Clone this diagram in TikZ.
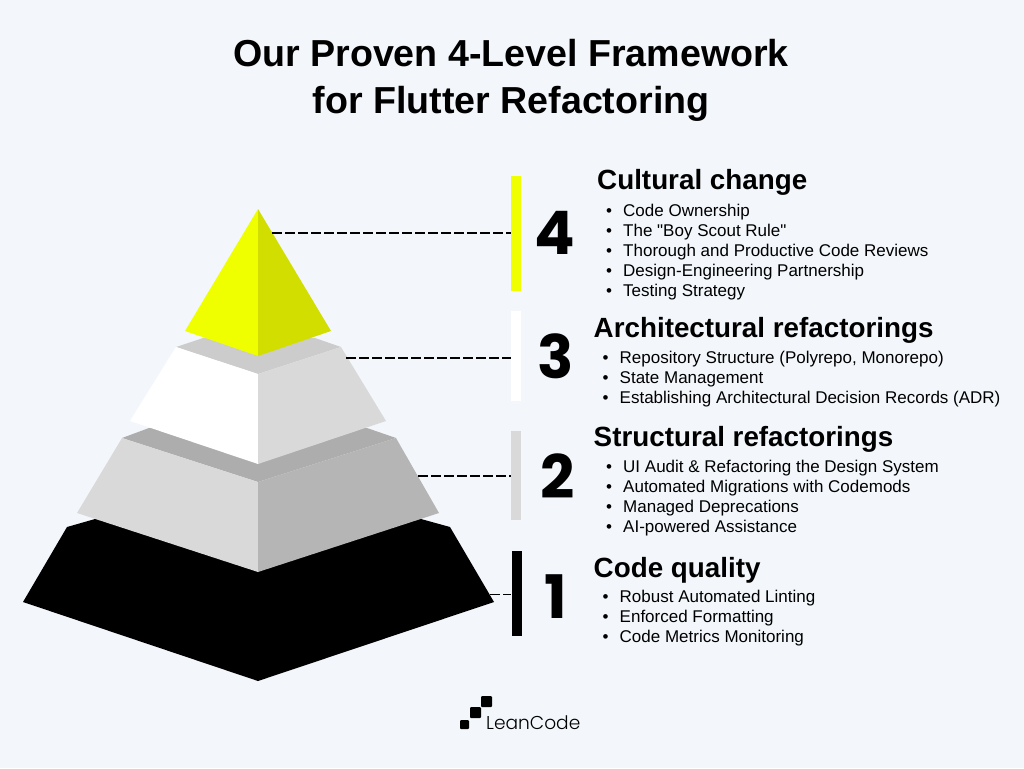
\documentclass[tikz,border=0pt]{standalone}
\usepackage{fontspec}
\setmainfont{Liberation Sans}
\newfontfamily\itemfont{Liberation Sans}
\newfontfamily\numfont{Poppins}
\newfontfamily\logofont{Poppins}[UprightFont=* Light]
\usetikzlibrary{positioning}
\definecolor{bgblue}{HTML}{F3F7FB}
\definecolor{lime}{HTML}{F0FF00}
\definecolor{darklime}{HTML}{D2DD00}
\tikzset{
  level bar/.style={rectangle, draw=none, inner sep=0pt, minimum width=10pt},
  level num/.style={inner sep=0pt, font=\numfont\bfseries\fontsize{60}{60}\selectfont},
  heading/.style={anchor=base west, inner sep=0pt, font=\bfseries\fontsize{27.8}{28}\selectfont},
  bullet item/.style={anchor=base west, inner sep=0pt, font=\itemfont\fontsize{17}{20}\selectfont},
  dash link/.style={black, line width=1.5pt, dash pattern=on 10pt off 3pt},
  logo square/.style={rectangle, fill=black, rounded corners=1pt, inner sep=0pt, minimum size=11pt}
}
\begin{document}
\begin{tikzpicture}[x=1pt, y=-1pt]
\fill[bgblue] (0,0) rectangle (1024,768);
\useasboundingbox (0,0) rectangle (1024,768);
% title
\node[align=center, inner sep=0pt, font=\bfseries\fontsize{37.6}{47}\selectfont] (title) at (511,80) {Our Proven 4-Level Framework\\for Flutter Refactoring};
% black level
\fill[black] (95,519) -- (67,527) -- (23,602) -- (258,681) -- (494,602) -- (450,527) -- (421,519) -- cycle;
% level 2
\fill[black!32] (149,428) -- (122,438) -- (258,482) -- (396,438) -- (367,428) -- cycle;
\fill[black!15] (122,438) -- (77,513) -- (258,572) -- (258,482) -- cycle;
\fill[black!29] (396,438) -- (439,513) -- (258,572) -- (258,482) -- cycle;
% level 3
\fill[black!20] (203,338) -- (176,347) -- (258,374) -- (341,347) -- (315,338) -- cycle;
\fill[white] (176,347) -- (130,421) -- (258,464) -- (258,374) -- cycle;
\fill[black!15] (341,347) -- (386,421) -- (258,464) -- (258,374) -- cycle;
% top level
\fill[lime] (258,209) -- (185,331) -- (258,356) -- cycle;
\fill[darklime] (258,209) -- (331,331) -- (258,356) -- cycle;
% bars
\node[level bar, fill=lime, minimum height=115pt] (barfour) at (516,233.5) {};
\node[level bar, fill=white, minimum height=90pt] (barthree) at (516,356) {};
\node[level bar, fill=black!15, minimum height=89pt] (bartwo) at (516,475.5) {};
\node[level bar, fill=black, minimum height=85pt] (barone) at (516.5,593.5) {};
% links
\coordinate (tipfour) at (272,233);
\coordinate (tipthree) at (346,358);
\coordinate (tiptwo) at (418,476);
\coordinate (tipone) at (490,594);
\draw[dash link] (tipfour) -- (tipfour -| barfour.west);
\draw[dash link] (tipthree) -- (tipthree -| barthree.west);
\draw[dash link] (tiptwo) -- (tiptwo -| bartwo.west);
\draw[dash link, line width=1pt] (tipone) -- (tipone -| barone.west);
% numbers
\node[level num] (numfour) at (554.5,233) {4};
\node[level num] (numthree) at (555.5,356) {3};
\node[level num] (numtwo) at (557.5,476) {2};
\node[level num] (numone) at (555.5,597) {1};
% level 4 text
\node[heading] (headfour) at (597,189) {Cultural change};
\foreach \i/\txt in {0/Code Ownership, 1/The "Boy Scout Rule", 2/Thorough and Productive Code Reviews, 3/Design-Engineering Partnership, 4/Testing Strategy} {
  \node[bullet item] (dotfour\i) at (606,216+20*\i) {•};
  \node[bullet item] (itemfour\i) at (623,216+20*\i) {\txt};
}
% level 3 text
\node[heading] (headthree) at (593.5,337) {Architectural refactorings};
\foreach \i/\txt in {0/{Repository Structure (Polyrepo, Monorepo)}, 1/State Management, 2/Establishing Architectural Decision Records (ADR)} {
  \node[bullet item] (dotthree\i) at (602.5,363+20*\i) {•};
  \node[bullet item] (itemthree\i) at (619.5,363+20*\i) {\txt};
}
% level 2 text
\node[heading] (headtwo) at (593.5,446) {Structural refactorings};
\foreach \i/\txt in {0/UI Audit \& Refactoring the Design System, 1/Automated Migrations with Codemods, 2/Managed Deprecations, 3/AI-powered Assistance} {
  \node[bullet item] (dottwo\i) at (606,472+20*\i) {•};
  \node[bullet item] (itemtwo\i) at (623,472+20*\i) {\txt};
}
% level 1 text
\node[heading] (headone) at (593.5,577) {Code quality};
\foreach \i/\txt in {0/Robust Automated Linting, 1/Enforced Formatting, 2/Code Metrics Monitoring} {
  \node[bullet item] (dotone\i) at (602.5,602+20*\i) {•};
  \node[bullet item] (itemone\i) at (619.5,602+20*\i) {\txt};
}
% logo
\node[logo square, minimum size=9pt] (logoa) at (464.5,724.5) {};
\node[logo square] (logob) at (475.5,712.5) {};
\node[logo square] (logoc) at (486.5,701.5) {};
\node[anchor=base west, inner sep=0pt, font=\logofont\fontsize{18.6}{20}\selectfont] (logotext) at (486,729) {LeanCode};
\end{tikzpicture}
\end{document}
